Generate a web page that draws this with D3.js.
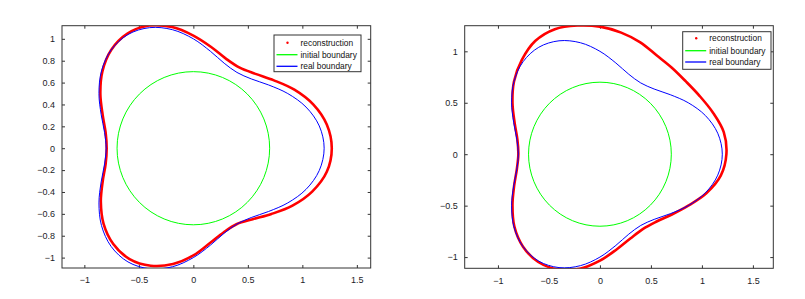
<!DOCTYPE html>
<html>
<head>
<meta charset="utf-8">
<script src="https://cdn.jsdelivr.net/npm/d3@7/dist/d3.min.js"></script>
<style>
  body { margin: 0; background: #fff; }
  svg { display: block; font-family: "Liberation Sans", Arial, Helvetica, sans-serif; }
  .tick text { fill: #1c1c28; font-size: 9px; }
  .domain { display: none; }
  .tick line { stroke: #333; }
</style>
</head>
<body>
<svg id="chart" width="805" height="299"></svg>
<script>
// polar samples (degrees)
var angles = [0,10,20,30,40,50,60,70,80,90,100,110,120,130,140,150,160,170,
              180,190,200,210,220,230,240,250,260,270,280,290,300,310,320,330,340,350];

var realRadius = [1.2,1.173,1.1,1.0,0.9,0.827,0.8,0.827,0.9,1.0,1.1,1.173,
                  1.2,1.173,1.1,1.0,0.9,0.827,0.8,0.827,0.9,1.0,1.1,1.173,
                  1.2,1.173,1.1,1.0,0.9,0.827,0.8,0.827,0.9,1.0,1.1,1.173];

var reconLeft = [1.27,1.243,1.17,1.07,0.965,0.887,0.85,0.872,0.94,1.03,1.125,1.193,
                 1.21,1.173,1.09,0.985,0.885,0.817,0.795,0.817,0.885,0.98,1.075,1.143,
                 1.17,1.143,1.075,0.98,0.88,0.817,0.8,0.847,0.935,1.05,1.16,1.243];

var reconRight = [1.24,1.233,1.18,1.13,1.10,1.097,1.11,1.157,1.2,1.24,1.27,1.293,
                  1.27,1.193,1.1,0.99,0.89,0.822,0.8,0.827,0.895,0.99,1.095,1.173,
                  1.21,1.193,1.13,1.035,0.94,0.872,0.84,0.857,0.915,1.0,1.11,1.203];

var initialRadius = 0.7;

var xTicks = [-1,-0.5,0,0.5,1,1.5];
var yTicksLeft = [-1,-0.8,-0.6,-0.4,-0.2,0,0.2,0.4,0.6,0.8,1];
var yTicksRight = [-1,-0.5,0,0.5,1];
var legendLabels = ["reconstruction","initial boundary","real boundary"];

var panels = [
  {left:62, top:25.7, right:370.7, bottom:268, xdom:[-1.205,1.627], ydom:[-1.095,1.12],
   yTicks:yTicksLeft, recon:reconLeft, legend:{x:274, y:35, w:87, h:36.7, rows:[42.7,54.7,66.3]}},
  {left:464.7, top:25.7, right:773.3, bottom:268.3, xdom:[-1.326,1.70], ydom:[-1.109,1.249],
   yTicks:yTicksRight, recon:reconRight, legend:{x:682.7, y:31.7, w:88.3, h:37.6, rows:[38.3,50.7,62]}}
];

var svg = d3.select("#chart");

function toXY(radii){
  return angles.map(function(a,i){
    var t = a*Math.PI/180;
    return [radii[i]*Math.cos(t), radii[i]*Math.sin(t)];
  });
}

panels.forEach(function(p, idx){
  var x = d3.scaleLinear().domain(p.xdom).range([p.left, p.right]);
  var y = d3.scaleLinear().domain(p.ydom).range([p.bottom, p.top]);
  var g = svg.append("g");

  var clipId = "clip" + idx;
  g.append("clipPath").attr("id", clipId).append("rect")
    .attr("x", p.left).attr("y", p.top)
    .attr("width", p.right - p.left).attr("height", p.bottom - p.top);

  var fmt = function(d){ return d3.format("")(+d.toFixed(2)); };

  g.append("g").attr("transform","translate(0," + p.bottom + ")")
    .call(d3.axisBottom(x).tickValues(xTicks).tickSizeInner(-3).tickSizeOuter(0).tickPadding(9).tickFormat(fmt));
  g.append("g").attr("transform","translate(0," + p.top + ")")
    .call(d3.axisTop(x).tickValues(xTicks).tickSizeInner(-3).tickSizeOuter(0).tickFormat(""));
  g.append("g").attr("transform","translate(" + p.left + ",0)")
    .call(d3.axisLeft(y).tickValues(p.yTicks).tickSizeInner(-3).tickSizeOuter(0).tickPadding(7).tickFormat(fmt));
  g.append("g").attr("transform","translate(" + p.right + ",0)")
    .call(d3.axisRight(y).tickValues(p.yTicks).tickSizeInner(-3).tickSizeOuter(0).tickFormat(""));

  g.append("rect")
    .attr("x", p.left).attr("y", p.top)
    .attr("width", p.right - p.left).attr("height", p.bottom - p.top)
    .attr("fill","none").attr("stroke","#333").attr("stroke-width",1);

  var line = d3.line()
    .x(function(d){ return x(d[0]); })
    .y(function(d){ return y(d[1]); })
    .curve(d3.curveCatmullRomClosed.alpha(0.5));

  var plot = g.append("g").attr("clip-path","url(#" + clipId + ")");

  plot.append("path").datum(toXY(p.recon)).attr("d", line)
    .attr("fill","none").attr("stroke","#ff0000").attr("stroke-width",2.6);

  plot.append("ellipse")
    .attr("cx", x(0)).attr("cy", y(0))
    .attr("rx", x(initialRadius) - x(0)).attr("ry", y(0) - y(initialRadius))
    .attr("fill","none").attr("stroke","#00ff00").attr("stroke-width",1);

  plot.append("path").datum(toXY(realRadius)).attr("d", line)
    .attr("fill","none").attr("stroke","#0000ff").attr("stroke-width",1);

  // legend
  var L = p.legend;
  var lg = g.append("g");
  lg.append("rect").attr("x", L.x).attr("y", L.y).attr("width", L.w).attr("height", L.h)
    .attr("fill","#fff").attr("stroke","#333").attr("stroke-width",1);
  var colors = ["#ff0000","#00ff00","#0000ff"];
  legendLabels.forEach(function(lab, i){
    var ry = L.rows[i];
    if (i === 0) {
      lg.append("circle").attr("cx", L.x + 13.5).attr("cy", ry).attr("r", 1.2).attr("fill", colors[i]);
    } else {
      lg.append("line").attr("x1", L.x + 2.5).attr("x2", L.x + 23.5)
        .attr("y1", ry).attr("y2", ry).attr("stroke", colors[i]).attr("stroke-width", 1.3);
    }
    lg.append("text").attr("x", L.x + 26.5).attr("y", ry + 3)
      .attr("font-size", "8.4px").attr("fill", "#111").text(lab);
  });
});
</script>
</body>
</html>
